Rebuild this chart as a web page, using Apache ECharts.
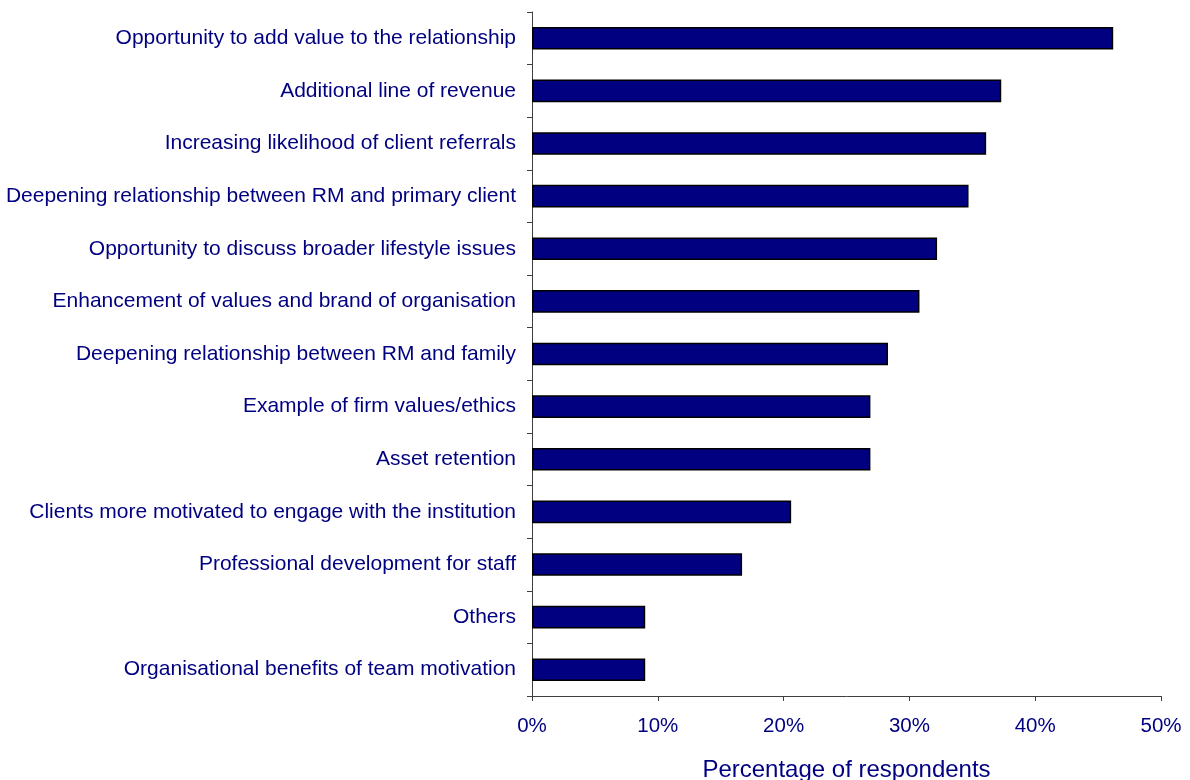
<!DOCTYPE html>
<html>
<head>
<meta charset="utf-8">
<script src="https://cdn.jsdelivr.net/npm/echarts@6/dist/echarts.min.js"></script>
<style>
  html, body { margin: 0; padding: 0; background: #ffffff; }
  #chart { width: 1190px; height: 780px; }
</style>
</head>
<body>
<div id="chart"></div>
<script>
// Benefits named by respondents, top to bottom
const categories = [
  'Opportunity to add value to the relationship',
  'Additional line of revenue',
  'Increasing likelihood of client referrals',
  'Deepening relationship between RM and primary client',
  'Opportunity to discuss broader lifestyle issues',
  'Enhancement of values and brand of organisation',
  'Deepening relationship between RM and family',
  'Example of firm values/ethics',
  'Asset retention',
  'Clients more motivated to engage with the institution',
  'Professional development for staff',
  'Others',
  'Organisational benefits of team motivation'
];

// Share of respondents (%)
const shares = [46.2, 37.3, 36.1, 34.7, 32.2, 30.8, 28.3, 26.9, 26.9, 20.6, 16.7, 9.0, 9.0];

const axisTitle = 'Percentage of respondents';

const textColor = '#000080';
const fontFamily = '"Liberation Sans", Arial, sans-serif';

const chart = echarts.init(document.getElementById('chart'));
chart.setOption({
  animation: false,
  backgroundColor: '#ffffff',
  grid: {
    left: 532, right: 29, top: 12, bottom: 84,
    containLabel: false,
    outerBoundsMode: 'none'
  },
  xAxis: {
    type: 'value',
    min: 0,
    max: 50,
    interval: 10,
    name: axisTitle,
    nameLocation: 'middle',
    nameGap: 62,
    nameTextStyle: { color: textColor, fontSize: 24, fontFamily: fontFamily },
    axisLine: { show: true, lineStyle: { color: '#404040', width: 1 } },
    axisTick: { show: true, length: 5, lineStyle: { color: '#404040' } },
    axisLabel: {
      color: textColor, fontSize: 20.5, fontFamily: fontFamily, margin: 20,
      formatter: v => v + '%'
    },
    splitLine: { show: false }
  },
  yAxis: {
    type: 'category',
    data: categories,
    inverse: true,
    axisLine: { show: true, lineStyle: { color: '#404040', width: 1 } },
    axisTick: { show: true, length: 5, lineStyle: { color: '#404040' } },
    axisLabel: { color: textColor, fontSize: 21, fontFamily: fontFamily, margin: 16 },
    splitLine: { show: false }
  },
  series: [{
    type: 'bar',
    data: shares,
    barWidth: '43%',
    itemStyle: { color: '#000080', borderColor: '#000000', borderWidth: 1.5 }
  }]
});
</script>
</body>
</html>
